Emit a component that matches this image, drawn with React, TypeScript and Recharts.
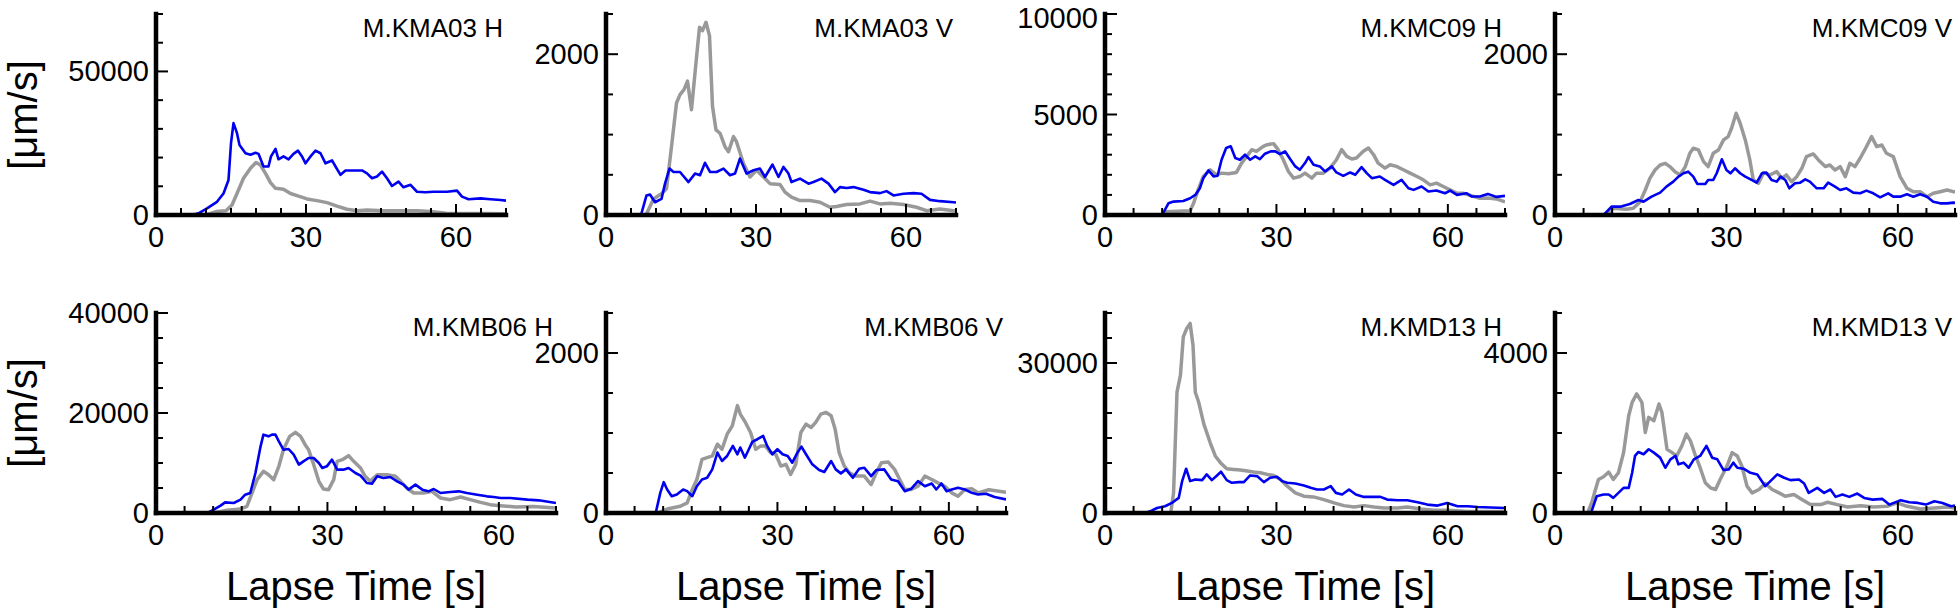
import React from 'react';
import { LineChart, Line, XAxis, YAxis } from 'recharts';

type Pt = [number, number];

// ---------- tick labels ----------
const X_TICKS = [0, 5, 10, 15, 20, 25, 30, 35, 40, 45, 50, 55, 60, 65, 70];
const X_MAJOR = [0, 30, 60];

// ---------- data: [lapse time s, value µm/s] ----------
const KMA03_H_blue: Pt[] = [[0,0],[7.2,0],[8.5,600],[10.2,2300],[12.2,4600],[13.5,7500],[14.5,12200],[15,25000],[15.5,32000],[16.2,28500],[16.7,24400],[17.9,21500],[18.9,21000],[19.9,21700],[20.5,21300],[21.5,16900],[22.5,16900],[23,20400],[23.9,23000],[24.5,19400],[25.5,20400],[26.5,19400],[27.5,21300],[28.4,22400],[29.2,20400],[29.9,18000],[30.9,20400],[31.9,22400],[32.9,21500],[33.9,18000],[35.2,19000],[35.9,16900],[36.9,14000],[37.9,15500],[39.5,15500],[41.2,15500],[42.2,14500],[43.2,12800],[44.2,13400],[45.2,15100],[46.2,12800],[47.2,10100],[48.5,11600],[49.5,9650],[50.9,10500],[52.2,8100],[53.9,7900],[55.5,8100],[58.2,8100],[60.2,8500],[61.2,6400],[62.5,5500],[64.9,5800],[66.9,5500],[68.9,5200],[70,5000]];
const KMA03_H_gray: Pt[] = [[0,0],[10,0],[12,1200],[14,1500],[15.2,3500],[16.2,7500],[17.5,12800],[18.9,16300],[20,18300],[20.9,17400],[21.9,14500],[22.9,11300],[23.9,9300],[25.5,9000],[26.9,7500],[28.5,6600],[30.2,5600],[32.2,5000],[34.2,4300],[36.2,3100],[38.2,2000],[40.2,1500],[42.2,1700],[45.5,1500],[48.9,1500],[52.2,1500],[54.9,1200],[58,600],[62,500],[66,500],[70,400]];

const KMA03_V_blue: Pt[] = [[0,0],[7,0],[8.1,243],[8.8,255],[9.8,159],[11.1,200],[11.8,390],[12.7,577],[13.5,535],[14.8,535],[16.5,410],[17.8,515],[18.8,494],[19.8,649],[20.8,535],[22.1,535],[23.5,577],[24.8,494],[25.8,515],[26.8,703],[28.1,515],[29.5,556],[30.8,577],[31.8,473],[33.3,628],[34.5,473],[35.5,598],[36.5,515],[37.1,410],[38.8,452],[40.5,390],[41.5,410],[43.1,452],[44.5,390],[45.8,285],[46.8,347],[48.1,335],[49.5,347],[51.5,314],[52.8,285],[54.8,272],[56.1,297],[57.5,243],[59.5,264],[61.5,272],[63.1,264],[64.8,188],[66.8,172],[69.5,159],[70,155]];
const KMA03_V_gray: Pt[] = [[0,0],[8,0],[9.5,200],[11.1,264],[12.1,326],[13.1,850],[14.1,1393],[14.8,1498],[15.6,1560],[16.3,1665],[17.1,1310],[18,1895],[18.7,2335],[19.3,2293],[20,2397],[20.7,2230],[21.3,1351],[22,1058],[22.8,1017],[23.8,850],[24.5,787],[25.5,975],[26.1,912],[27.5,640],[28.8,473],[30.1,556],[31.5,473],[32.8,390],[34.8,380],[35.8,285],[37.1,222],[38.8,180],[40.8,180],[42.8,159],[44.8,96],[46.1,105],[48.1,130],[50.8,138],[52.8,172],[54.8,138],[56.8,146],[59.5,130],[62.1,96],[64.1,54],[66.8,75],[69.5,54],[70,54]];

const KMC09_H_blue: Pt[] = [[0,0],[10,0],[11.1,583],[12,667],[13.7,700],[14.9,833],[15.8,1000],[16.6,1333],[17.2,1833],[18.1,2217],[19,1917],[19.7,1950],[20.4,2750],[21.2,3333],[22,3417],[22.8,2833],[23.6,2750],[24.5,3000],[25.4,2750],[26.3,2917],[27.1,2783],[28,3050],[29,3167],[29.8,3167],[30.6,3033],[31.5,3167],[32.4,2783],[33.3,2417],[34.1,2250],[35,2583],[35.6,2883],[36.5,2500],[37.6,2417],[38.5,2167],[39.7,2417],[40.5,2117],[41.7,1950],[42.9,2117],[43.8,2000],[44.9,2383],[45.8,2083],[46.7,1833],[48.1,1917],[49,1750],[50.5,1500],[51.9,1750],[53.1,1333],[54,1250],[55.4,1417],[56.6,1167],[58,1217],[59.5,1083],[60.4,1217],[61.6,1000],[63.3,1083],[64.2,917],[65.6,917],[67,1050],[68.5,900],[70,950]];
const KMC09_H_gray: Pt[] = [[0,0],[10.5,0],[10.8,167],[14.9,217],[15.5,583],[16.3,1250],[17.2,1917],[18.4,2250],[19.5,2000],[20.4,2083],[21.6,2050],[23,2117],[23.9,2583],[24.8,2917],[25.7,3250],[26.5,3167],[27.7,3417],[28.4,3500],[29.5,3550],[30.3,3250],[31.2,2750],[32.1,2167],[33,1833],[34.1,1917],[35,2083],[36.2,1833],[37,2083],[38.2,2083],[39.4,2333],[40.5,2750],[41.4,3250],[42.3,2917],[43.2,2783],[44,2833],[45.2,3167],[46.1,3333],[47,3000],[47.8,2583],[49,2333],[49.9,2500],[51,2417],[52.2,2250],[53.4,2083],[54.6,1917],[55.7,1750],[56.9,1500],[58,1583],[59.2,1417],[60.4,1250],[61.6,1083],[62.7,1083],[64.2,950],[65.6,833],[67,850],[68.5,800],[70,650]];

const KMC09_V_blue: Pt[] = [[0,0],[8.5,0],[9.9,104],[11.4,104],[13.1,137],[14.6,187],[15.5,166],[16.9,228],[18.4,278],[19.5,353],[20.7,415],[21.6,477],[22.5,519],[23.3,539],[24.2,477],[24.9,386],[26.3,386],[26.8,436],[27.7,436],[28.3,519],[29.2,693],[30,560],[30.7,519],[31.5,581],[32.4,519],[33.3,477],[34.4,436],[35.3,402],[36.2,519],[37,527],[37.9,436],[38.8,415],[39.5,477],[40.3,436],[41,332],[42,394],[42.9,402],[43.8,444],[44.6,415],[45.8,332],[47,332],[47.8,402],[49,353],[49.9,311],[51,332],[52.2,278],[53.4,270],[54.5,303],[55.7,270],[56.9,220],[58.3,270],[59.2,228],[60.4,228],[61.6,257],[62.7,228],[63.9,257],[65.1,228],[66.2,166],[67.4,145],[68.6,145],[69.7,154],[70,150]];
const KMC09_V_gray: Pt[] = [[0,0],[9,0],[10.2,83],[12.5,71],[13.7,83],[14.9,166],[15.8,311],[16.6,456],[17.5,560],[18.4,622],[19.3,643],[20.1,602],[21,539],[21.9,498],[22.8,602],[23.6,768],[24.2,830],[25.1,809],[26,664],[26.8,602],[27.7,768],[28.6,809],[29.5,934],[30.3,975],[30.9,1079],[31.7,1265],[32.4,1141],[33.3,934],[34.1,685],[34.7,436],[35.6,394],[36.5,527],[37.6,498],[38.8,539],[39.7,456],[40.5,498],[41.4,415],[42.3,477],[43.2,581],[44,726],[45.2,759],[46.1,685],[47.3,602],[48.1,622],[49,560],[49.9,602],[50.8,477],[51.6,643],[52.5,602],[53.4,706],[54.2,809],[55.4,975],[56.3,851],[57.2,871],[58,768],[59.2,726],[60.4,477],[61.6,332],[62.7,290],[63.9,290],[65.1,228],[66.2,270],[67.4,290],[68.6,311],[69.7,290],[70,290]];

const KMB06_H_blue: Pt[] = [[0,0],[9,0],[10.1,667],[11.3,1467],[12.1,2133],[13.6,2000],[14.8,2667],[15.6,3667],[16.5,4000],[17.4,8000],[18.3,13333],[18.8,15667],[19.7,15333],[20.3,15667],[20.9,15667],[21.5,14333],[22.3,12667],[23.2,12800],[24.1,11667],[25,9667],[25.8,10333],[26.7,11000],[27.6,11000],[28.5,10000],[29.1,9000],[29.9,9333],[30.8,10667],[31.7,8667],[32.8,8667],[33.7,9000],[34.9,8000],[35.8,7467],[36.9,6000],[37.8,5867],[38.7,7333],[39.8,7000],[41,7200],[42.2,6333],[43.3,5667],[44.2,4667],[45.4,5667],[46.6,4667],[47.7,4333],[48.6,4800],[49.8,4000],[51.5,4200],[53,4333],[54.4,4000],[56.2,3667],[57.9,3333],[59.1,3200],[60.3,3000],[62,3000],[65,2667],[67,2533],[70,2000]];
const KMB06_H_gray: Pt[] = [[0,0],[10,0],[12.4,533],[14.8,800],[15.9,1333],[16.8,4000],[17.7,6667],[18.8,8333],[19.7,7667],[20.6,6667],[21.5,9333],[22.3,12667],[23.4,15333],[24.4,16133],[25.3,15333],[26.1,13667],[26.7,12667],[27.6,9667],[28.5,6333],[29.3,4800],[30.2,4667],[31.1,6667],[31.7,10333],[32.6,10667],[33.7,11467],[34.6,10333],[35.8,9000],[36.6,7333],[37.5,6333],[38.7,7667],[40.4,7667],[41.9,7333],[42.8,6333],[43.9,5000],[45.1,4000],[46.8,4000],[48.3,4333],[49.8,3000],[51.5,2667],[53.3,3200],[55,2667],[56.8,2133],[58.5,1667],[60.3,1467],[63,1200],[66,1300],[70,1000]];

const KMB06_V_blue: Pt[] = [[0,0],[8.7,0],[9.5,252],[10.1,386],[10.7,294],[11.5,210],[12.4,231],[13.5,294],[14.2,273],[15.1,210],[15.9,335],[16.8,419],[17.7,440],[18.6,545],[19.5,755],[20.3,650],[21.2,713],[22.2,839],[23,734],[23.5,818],[24.3,692],[25,797],[25.6,889],[26.5,922],[27.5,964],[28.2,839],[29.1,734],[30,797],[30.9,734],[31.8,713],[32.6,629],[33.5,755],[34.2,830],[35,734],[36.1,608],[37.3,537],[38.2,512],[39.4,650],[40.2,545],[41.1,495],[42,545],[43.2,440],[44.3,553],[45.2,566],[46.4,461],[47.3,537],[48.7,545],[49.9,419],[51.1,398],[52.3,273],[53.4,302],[54.6,398],[55.8,335],[57,369],[57.8,294],[58.7,369],[59.6,273],[60.5,294],[61.6,315],[62.8,294],[64,252],[65.1,231],[66.5,240],[68,200],[70,170]];
const KMB06_V_gray: Pt[] = [[0,0],[9,0],[10.7,50],[13,84],[14.2,126],[15.1,294],[15.9,419],[16.8,671],[17.7,692],[18.6,713],[19.5,860],[20.3,797],[21.2,985],[22.1,1090],[23,1342],[23.5,1237],[24.4,1132],[25.3,1006],[26.2,797],[27.1,839],[27.9,839],[28.8,755],[29.7,734],[30.6,587],[31.5,608],[32.3,482],[33.2,608],[34.1,1006],[35,1111],[35.9,1069],[36.7,1132],[37.6,1237],[38.5,1258],[39.4,1216],[40.1,1048],[40.8,755],[41.7,587],[42.6,503],[43.8,461],[45.2,461],[46.4,356],[47.3,503],[48.2,629],[49.4,637],[50.5,545],[51.4,419],[52.3,294],[53.4,294],[54.6,335],[55.8,461],[57,419],[58.1,377],[59.3,335],[60.5,252],[61.6,210],[62.8,294],[64,302],[65.1,252],[67,290],[70,260]];

const KMD13_H_blue: Pt[] = [[0,0],[7,0],[7.9,335],[9.1,1006],[10.5,1342],[11.7,2013],[12.9,3020],[13.5,6375],[14.2,8857],[14.9,6375],[15.8,6710],[17,6576],[17.8,7717],[18.7,6576],[19.6,7515],[20.3,8253],[21.3,6576],[22.2,6039],[23.4,6173],[24.3,6173],[25.4,7515],[26.6,7381],[27.8,6173],[28.9,7046],[30.1,7247],[31,6375],[31.9,6039],[33.3,5905],[34.8,5502],[36,5033],[37.1,4697],[38.3,4697],[39.5,5368],[40.4,4026],[41.5,3691],[42.7,4697],[43.9,3691],[45.3,3221],[46.8,3221],[48.2,3221],[49.4,2684],[51.2,2550],[52.9,2550],[54.7,2147],[56.4,1678],[58.2,1476],[59.9,2013],[61.7,1342],[63.5,1342],[65.2,1208],[67.5,1100],[70,1000]];
const KMD13_H_gray: Pt[] = [[0,0],[11.5,0],[12,4026],[12.6,24156],[13.2,27511],[13.7,35228],[14.3,36906],[14.9,37912],[15.4,33550],[15.8,24156],[16.4,22143],[17.3,17782],[18.4,14091],[19.3,11407],[20.2,10065],[21.3,8857],[22.5,8723],[23.7,8589],[24.9,8388],[26,8186],[27.2,8052],[28.4,7717],[29.5,7515],[30.7,6710],[31.9,5368],[33.3,4026],[34.8,3355],[36.5,3221],[38.3,2684],[40.1,2013],[41.8,1476],[43.6,1208],[45.3,1476],[47.1,1208],[48.8,1006],[51.2,1006],[52.9,1208],[55.3,805],[57.6,537],[59.9,537],[62.9,335],[66,300],[70,300]];

const KMD13_V_blue: Pt[] = [[0,0],[6.3,0],[7.3,419],[8.5,461],[9.4,461],[10.2,377],[11.1,503],[12,629],[12.9,629],[13.5,1006],[14,1426],[14.6,1526],[15.5,1468],[16.4,1593],[17.3,1509],[18.4,1384],[19.3,1132],[20.2,1342],[21.1,1426],[21.6,1216],[22.5,1258],[23.4,1132],[24.3,1342],[25.4,1426],[26.5,1677],[27.5,1384],[28.4,1342],[29.5,1073],[30.4,1090],[31.2,1258],[31.9,1132],[33,1107],[34.2,1006],[35.4,964],[36.8,671],[37.7,797],[38.9,964],[40.1,881],[41.2,822],[42.7,839],[43.6,738],[44.4,503],[45.9,629],[47.1,503],[48.2,587],[49.1,403],[50.3,461],[51.5,403],[52.9,486],[54.1,377],[55.6,335],[57.3,352],[58.5,210],[60.5,319],[62,268],[63.5,252],[64.9,210],[66.4,294],[67.8,252],[69.3,168],[70,184]];
const KMD13_V_gray: Pt[] = [[0,0],[5.7,0],[6.4,252],[7.6,839],[8.5,906],[9.4,1023],[10.2,839],[11.1,1006],[12,1509],[12.9,2432],[13.5,2767],[14.3,2977],[15.2,2767],[15.8,2013],[16.4,2390],[17.3,2306],[18.2,2725],[18.7,2516],[19.6,1593],[20.5,1509],[21.3,1426],[22.2,1677],[23,1971],[23.7,1803],[24.6,1426],[25.4,1132],[26.3,755],[27.2,629],[28.1,587],[28.9,839],[30.1,1174],[31,1509],[31.9,1426],[32.7,1174],[33.6,671],[34.5,503],[35.7,587],[36.8,738],[38,587],[39.2,503],[40.3,419],[41.8,461],[43.2,335],[44.7,210],[46.5,210],[47.7,268],[49.4,210],[51.2,151],[53.5,184],[55.8,151],[58.1,168],[59.9,252],[61.6,168],[64,101],[66.4,126],[68.7,151],[70,126]];

// ---------- layout ----------
const FONT = '"Liberation Sans", Arial, Helvetica, sans-serif';

type Spec = {
  title: string; x: number; y: number; w: number; h: number;
  yMax: number; yStep: number; yMajor: number[];
  blue: Pt[]; gray: Pt[];
};

const range = (max: number, step: number) => {
  const out: number[] = [];
  for (let v = 0; v <= max + 1e-9; v += step) out.push(v);
  return out;
};

const PANELS: Spec[] = [
  { title: 'M.KMA03 H', x: 156, y: 14, w: 350, h: 201, yMax: 70000, yStep: 10000, yMajor: [0, 50000], blue: KMA03_H_blue, gray: KMA03_H_gray },
  { title: 'M.KMA03 V', x: 606, y: 14, w: 350, h: 201, yMax: 2500, yStep: 500, yMajor: [0, 2000], blue: KMA03_V_blue, gray: KMA03_V_gray },
  { title: 'M.KMC09 H', x: 1105, y: 14, w: 400, h: 201, yMax: 10000, yStep: 1000, yMajor: [0, 5000, 10000], blue: KMC09_H_blue, gray: KMC09_H_gray },
  { title: 'M.KMC09 V', x: 1555, y: 14, w: 400, h: 201, yMax: 2500, yStep: 500, yMajor: [0, 2000], blue: KMC09_V_blue, gray: KMC09_V_gray },
  { title: 'M.KMB06 H', x: 156, y: 313, w: 400, h: 200, yMax: 40000, yStep: 5000, yMajor: [0, 20000, 40000], blue: KMB06_H_blue, gray: KMB06_H_gray },
  { title: 'M.KMB06 V', x: 606, y: 313, w: 400, h: 200, yMax: 2500, yStep: 500, yMajor: [0, 2000], blue: KMB06_V_blue, gray: KMB06_V_gray },
  { title: 'M.KMD13 H', x: 1105, y: 313, w: 400, h: 200, yMax: 40000, yStep: 5000, yMajor: [0, 30000], blue: KMD13_H_blue, gray: KMD13_H_gray },
  { title: 'M.KMD13 V', x: 1555, y: 313, w: 400, h: 200, yMax: 5000, yStep: 1000, yMajor: [0, 4000], blue: KMD13_V_blue, gray: KMD13_V_gray },
];

const toObj = (pts: Pt[]) => pts.map(([t, v]) => ({ t, v }));

const ML = 130, MR = 6, MT = 24, MB = 50;
const TICK_FS = 29;

const XTick = (props: any) => {
  const { x, y, payload } = props;
  const v = payload.value;
  const major = X_MAJOR.includes(v);
  return (
    <g>
      <line x1={x} x2={x} y1={y} y2={y - (major ? 11 : 7)} stroke="#000" strokeWidth={2} />
      {major && (
        <text x={x} y={y + 32} textAnchor="middle" fontSize={TICK_FS} fontFamily={FONT} fill="#000">{v}</text>
      )}
    </g>
  );
};

// minBase: smallest baseline (in chart coords) so a label never leaves the page top
const makeYTick = (majors: number[], minBase: number) => (props: any) => {
  const { x, y, payload } = props;
  const v = payload.value;
  const major = majors.includes(v);
  return (
    <g>
      <line x1={x} x2={x + (major ? 12 : 7)} y1={y} y2={y} stroke="#000" strokeWidth={2} />
      {major && (
        <text x={x - 7} y={Math.max(y + 10, minBase)} textAnchor="end" fontSize={TICK_FS} fontFamily={FONT} fill="#000">{v}</text>
      )}
    </g>
  );
};

function Panel({ s }: { s: Spec }) {
  const width = s.w + ML + MR;
  const height = s.h + MT + MB;
  const top = s.y - MT;
  return (
    <div style={{ position: 'absolute', left: s.x - ML, top, width, height }}>
      <LineChart width={width} height={height} margin={{ top: MT, right: MR, bottom: 0, left: 0 }}>
        <XAxis
          type="number" dataKey="t" domain={[0, 70]} ticks={X_TICKS} interval={0}
          height={MB} tickSize={0} tickMargin={0} tickLine={false}
          axisLine={{ stroke: '#000', strokeWidth: 4.5, strokeLinecap: 'square' }}
          tick={XTick} allowDataOverflow
        />
        <YAxis
          type="number" dataKey="v" domain={[0, s.yMax]} ticks={range(s.yMax, s.yStep)} interval={0}
          width={ML} tickSize={0} tickMargin={0} tickLine={false}
          axisLine={{ stroke: '#000', strokeWidth: 4.5, strokeLinecap: 'square' }}
          tick={makeYTick(s.yMajor, 28 - top)} allowDataOverflow
        />
        <Line data={toObj(s.gray)} dataKey="v" type="linear" stroke="#999999" strokeWidth={3.5}
          dot={false} activeDot={false} isAnimationActive={false} strokeLinejoin="round" />
        <Line data={toObj(s.blue)} dataKey="v" type="linear" stroke="#0000f0" strokeWidth={2.6}
          dot={false} activeDot={false} isAnimationActive={false} strokeLinejoin="round" />
      </LineChart>
    </div>
  );
}

export default function App() {
  return (
    <div style={{ position: 'absolute', left: 0, top: 0, width: 1960, height: 614, background: '#fff', overflow: 'hidden' }}>
      {PANELS.map((s) => <Panel key={s.title} s={s} />)}
      <svg width={1960} height={614} style={{ position: 'absolute', left: 0, top: 0, pointerEvents: 'none' }}>
        {PANELS.map((s) => (
          <text key={s.title} x={s.x + s.w - 3} y={s.y + 23} textAnchor="end" fontSize={26} fontFamily={FONT} fill="#000">{s.title}</text>
        ))}
        <text transform="translate(23,115) rotate(-90)" textAnchor="middle" dominantBaseline="central" fontSize={40} fontFamily={FONT} fill="#000">[μm/s]</text>
        <text transform="translate(23,413) rotate(-90)" textAnchor="middle" dominantBaseline="central" fontSize={40} fontFamily={FONT} fill="#000">[μm/s]</text>
        {PANELS.slice(4).map((s) => (
          <text key={'xl' + s.title} x={s.x + s.w / 2} y={600} textAnchor="middle" fontSize={40} fontFamily={FONT} fill="#000">Lapse Time [s]</text>
        ))}
      </svg>
    </div>
  );
}
